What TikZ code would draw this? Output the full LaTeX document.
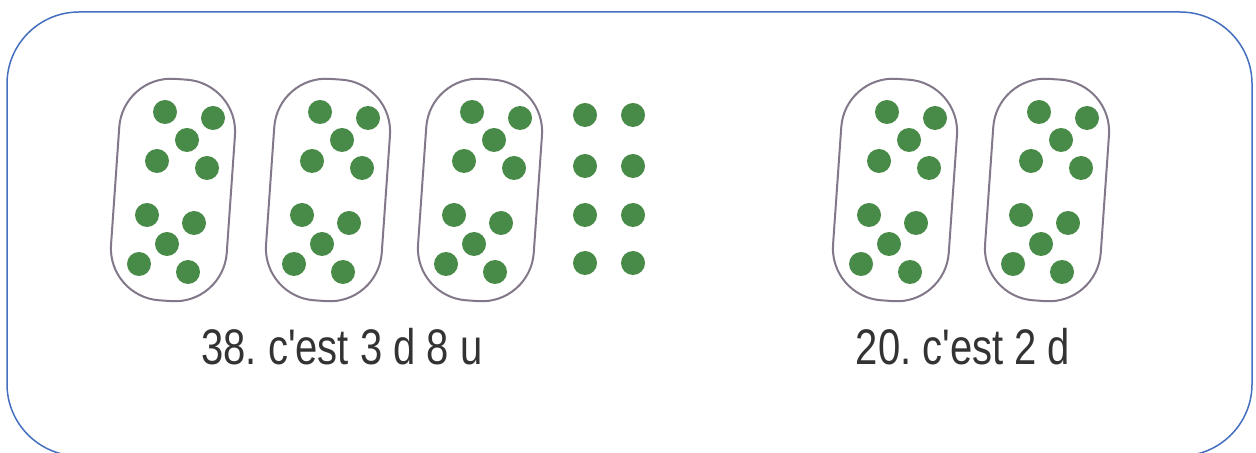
\documentclass[tikz,border=0pt]{standalone}
\usepackage{fontspec}
\setmainfont{Liberation Sans}
\definecolor{bille}{RGB}{72,138,72}
\definecolor{trait}{RGB}{130,120,138}
\definecolor{cadre}{RGB}{68,110,190}
\begin{document}
\frenchspacing
\begin{tikzpicture}[x=0.5pt,y=-0.5pt,
  boite/.style={draw=trait,line width=1pt,rounded corners=26pt,inner sep=0pt,
    minimum width=58pt,minimum height=111pt,rotate=-4},
  bille/.style={fill=bille},
  legende/.style={text=black!80,font=\fontsize{25}{30}\selectfont,xscale=0.8,anchor=base}
]
\useasboundingbox (0,0) rectangle (1256,453);
\draw[cadre,line width=0.75pt,rounded corners=36pt] (7,12) rectangle (1252,456);
% dizaines
\foreach \cx [count=\i] in {173,328,480,895,1047}{
  \node[boite] (d\i) at (\cx,190) {};
  \foreach \dx/\dy in {-8/-78,40/-72,14/-50,-16/-29,34/-22,-26/25,21/33,-6/54,-34/74,15/82}
    \fill[bille] (\cx+\dx,190+\dy) circle[radius=6pt];
}
% unites
\foreach \ux in {585,633}
  \foreach \uy in {115,166,215,263}
    \fill[bille] (\ux,\uy) circle[radius=6pt];
\node[legende] (t38) at (342,365) {38. c\textquotesingle est 3 d 8 u};
\node[legende] (t20) at (963,365) {20. c\textquotesingle est 2 d};
\end{tikzpicture}
\end{document}
